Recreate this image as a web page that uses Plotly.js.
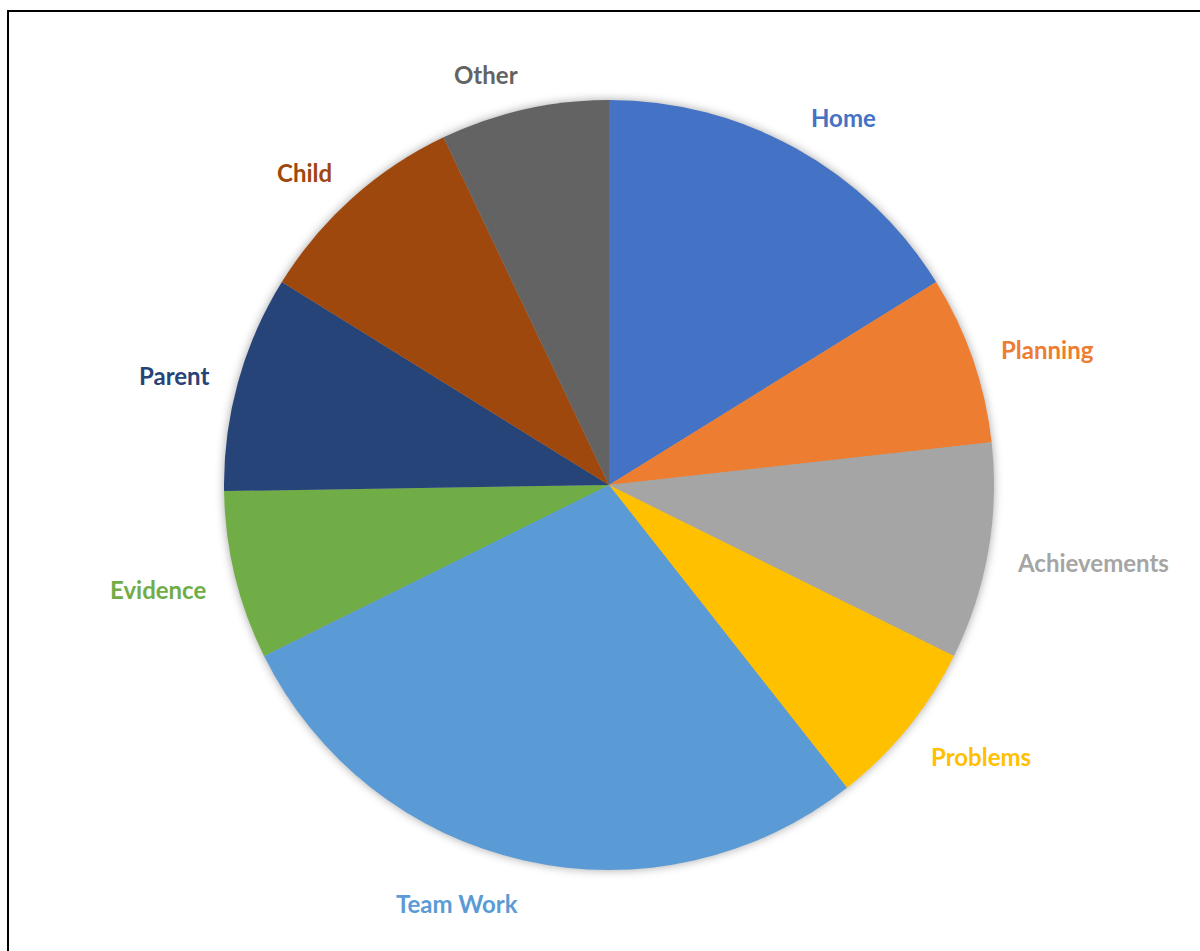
<!DOCTYPE html>
<html>
<head>
<meta charset="utf-8">
<script src="https://cdn.plot.ly/plotly-3.0.1.min.js"></script>
<style>
html,body{margin:0;padding:0;background:#fff;overflow:hidden;}
#chart{position:absolute;left:0;top:0;width:1200px;height:951px;}
#frame{position:absolute;left:7px;top:10px;width:1300px;height:1100px;border:2px solid #000;pointer-events:none;box-sizing:border-box;}
.pielayer .trace{filter:drop-shadow(0px 0px 5px rgba(0,0,0,0.35));}
</style>
</head>
<body>
<div id="chart"></div>
<div id="frame"></div>
<script>
const categories = ["Home","Planning","Achievements","Problems","Team Work","Evidence","Parent","Child","Other"];
const values = [16,7,9,7,28,7,9,9,7];
const colors = ["#4472C4","#ED7D31","#A5A5A5","#FFC000","#5B9BD5","#70AD47","#264478","#9E480E","#636363"];

const W = 1200, H = 951;
const margin = {l:224, r:206, t:100, b:81};
const plotW = W - margin.l - margin.r;
const plotH = H - margin.t - margin.b;
const R = Math.min(plotW, plotH) / 2;

const fontFamily = "Lato, 'Open Sans', sans-serif";
const fontSize = 24;
const canvas = document.createElement('canvas');
const ctx = canvas.getContext('2d');
ctx.font = "bold " + fontSize + "px Lato";

const total = values.reduce((a,b)=>a+b,0);
let cum = 0;
const annotations = categories.map((c,i)=>{
  const mid = (cum + values[i]/2) / total * 2 * Math.PI;
  cum += values[i];
  const s = Math.sin(mid), co = Math.cos(mid);
  const w = ctx.measureText(c).width;
  const h = 20;
  const d = R + 30;
  // pixel offsets from pie centre (y up)
  const dx = d*s + Math.sign(s)*w/2;
  const dy = d*co + co*h/2 - 4;
  return {
    x: 0.5 + dx/plotW,
    y: 0.5 + dy/plotH,
    xref:'paper', yref:'paper',
    text: c, showarrow:false,
    xanchor:'center', yanchor:'middle',
    font:{family:fontFamily, size:fontSize, color:colors[i], weight:700}
  };
});

const data = [{
  type:'pie',
  labels: categories,
  values: values,
  sort:false,
  direction:'clockwise',
  rotation:0,
  marker:{colors:colors, line:{width:0}},
  textinfo:'none',
  hoverinfo:'label+value',
  showlegend:false
}];

const layout = {
  width:W, height:H,
  margin:margin,
  paper_bgcolor:'#ffffff',
  plot_bgcolor:'#ffffff',
  showlegend:false,
  annotations: annotations
};

Plotly.newPlot('chart', data, layout, {displayModeBar:false, staticPlot:true});
</script>
</body>
</html>
